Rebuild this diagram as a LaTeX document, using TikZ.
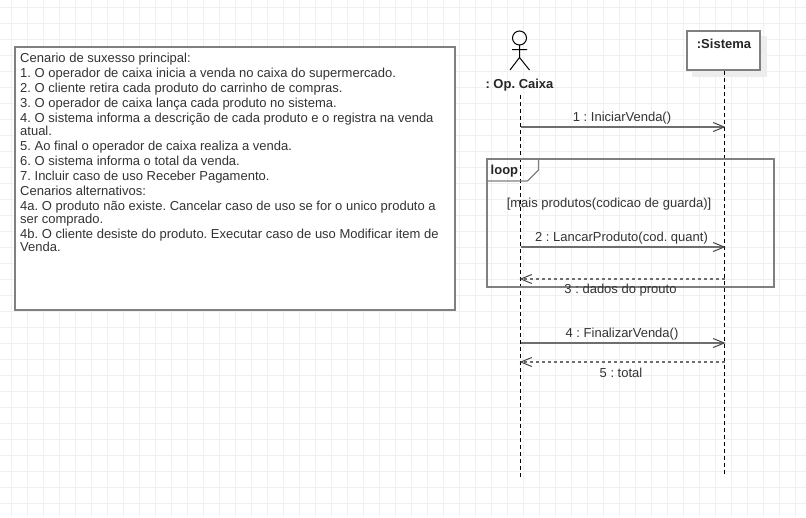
\documentclass[tikz,border=0pt]{standalone}
\usepackage{fontspec}
\setmainfont{Liberation Sans}
\usetikzlibrary{arrows.meta}
\definecolor{gridline}{HTML}{F0F0F0}
\definecolor{edgegray}{HTML}{808080}
\definecolor{msggray}{HTML}{6E6E6E}
\definecolor{textgray}{HTML}{333333}
\newcommand*{\lifeA}{520}
\newcommand*{\lifeB}{725}
\tikzset{
    boxline/.style   = {draw=edgegray, line width=2pt},
    lifeline/.style  = {black, line width=1pt, dash pattern=on 4pt off 3pt},
    msg/.style       = {msggray, line width=1.6pt, -{Straight Barb[length=11pt,width=9pt,line width=1pt,color=textgray!90,sep=-1pt]}},
    msgback/.style   = {msg, dash pattern=on 3pt off 3pt},
    msglabel/.style  = {text=textgray, font=\fontsize{13}{15}\selectfont\frenchspacing, inner sep=0pt},
    boldlabel/.style = {text=black!85, font=\fontsize{13}{15}\selectfont\bfseries\frenchspacing, inner sep=0pt},
}
\begin{document}
\begin{tikzpicture}[x=1pt, y=-1pt]
    \useasboundingbox (0,0) rectangle (806,517);
    \fill [white] (0,0) rectangle (806,517);
    % grid
    \foreach \gx in {11,27,...,795}
        \draw [gridline, line width=1pt] (\gx,0) -- (\gx,517);
    \foreach \gy in {7,23,...,503}
        \draw [gridline, line width=1pt] (0,\gy) -- (806,\gy);

    % scenario text
    \node [boxline, fill=white, minimum width=439.7pt, minimum height=263pt, inner sep=0pt, anchor=north west] (cenario) at (14.3,46) {};
    \node [anchor=north west, inner sep=0pt, text=textgray, align=left, font=\fontsize{13}{13}\selectfont\frenchspacing] (cenariotext) at (20,52.8) {%
        Cenario de suxesso principal:\\[2pt]
        1. O operador de caixa inicia a venda no caixa do supermercado.\\[2pt]
        2. O cliente retira cada produto do carrinho de compras.\\[2pt]
        3. O operador de caixa lança cada produto no sistema.\\[2pt]
        4. O sistema informa a descrição de cada produto e o registra na venda\\
        atual.\\[2pt]
        5. Ao final o operador de caixa realiza a venda.\\[2pt]
        6. O sistema informa o total da venda.\\[2pt]
        7. Incluir caso de uso Receber Pagamento.\\[2pt]
        Cenarios alternativos:\\[2pt]
        4a. O produto não existe. Cancelar caso de uso se for o unico produto a\\
        ser comprado.\\[2pt]
        4b. O cliente desiste do produto. Executar caso de uso Modificar item de\\
        Venda.};

    % actor
    \coordinate (hip) at (\lifeA-.5,57.5);
    \coordinate (neck) at (\lifeA-.5,45);
    \draw [black, line width=1pt] (\lifeA-.5,38) circle (7pt);
    \draw [black, line width=1pt] (neck) -- (hip) (\lifeA-8,49.5) -- (\lifeA+7,49.5)
        (hip) -- (\lifeA-10,70) (hip) -- (\lifeA+9.5,70);
    \node [boldlabel] (opcaixa) at (\lifeA-.5,84.8) {: Op. Caixa};

    % system box
    \fill [black!7] (692,36) rectangle (767,77);
    \node [boxline, fill=white, minimum width=73pt, minimum height=38.5pt, inner sep=0pt, anchor=north west] (sistema) at (686,30) {};
    \node [boldlabel] (sistematxt) at (724,43.5) {:Sistema};

    % lifelines
    \coordinate (endA) at (\lifeA.5,477);
    \coordinate (endB) at (\lifeB-.5,475);
    \draw [lifeline] (\lifeA.5,95) -- (endA);
    \draw [lifeline] (sistema.south -| endB) -- (endB);

    % loop frame
    \draw [edgegray, line width=1.5pt] (487,159) rectangle (774,287);
    \draw [edgegray, line width=1.2pt] (487,181) -- (527.5,181) -- (538.5,170) -- (538.5,159);
    \node [boldlabel, anchor=west] (looptag) at (490.5,171) {loop};
    \node [msglabel] (guarda) at (609,203.7) {[mais produtos(codicao de guarda)]};

    % messages
    \foreach \nm/\my in {a1/127, a2/247, a3/279, a4/343, a5/362} {
        \coordinate (\nm a) at (\lifeA.5,\my);
        \coordinate (\nm b) at (\lifeB-.5,\my);
    }
    \draw [msg] (a1a) -- (a1b);
    \draw [msg] (a2a) -- (a2b);
    \draw [msgback] (a3b) -- (a3a);
    \draw [msg] (a4a) -- (a4b);
    \draw [msgback] (a5b) -- (a5a);

    \node [msglabel] (m1) at (622,118.2) {1 : IniciarVenda()};
    \node [msglabel] (m2) at (621.5,238.2) {2 : LancarProduto(cod. quant)};
    \node [msglabel] (m3) at (620.5,290.2) {3 : dados do prouto};
    \node [msglabel] (m4) at (622,334.2) {4 : FinalizarVenda()};
    \node [msglabel] (m5) at (621,372.5) {5 : total};
\end{tikzpicture}
\end{document}
